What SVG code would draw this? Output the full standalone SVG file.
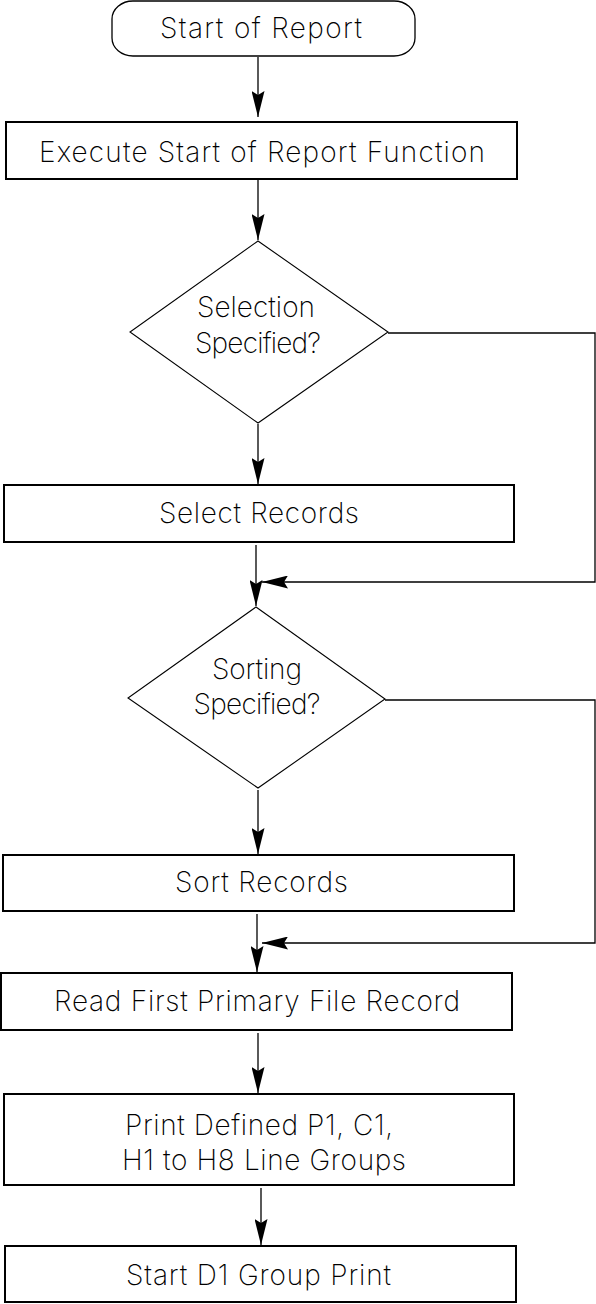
<svg xmlns="http://www.w3.org/2000/svg" width="596" height="1304" viewBox="0 0 596 1304">
<style>
.box{fill:#fff;stroke:#000;stroke-width:2}
.term{fill:#fff;stroke:#000;stroke-width:1.3}
.dia{fill:#fff;stroke:#000;stroke-width:1.1}
.con{fill:none;stroke:#000;stroke-width:1.3}
.t{font-family:Inter,"Liberation Sans",Arial,sans-serif;font-size:28px;font-weight:200;fill:#000;text-anchor:middle}
</style>
<defs>
<marker id="ah" viewBox="0 0 26 13" refX="26" refY="6.5" markerWidth="26" markerHeight="13" markerUnits="userSpaceOnUse" orient="auto">
<path d="M0,0 L26,6.5 L0,13 L4,6.5 Z" fill="#000"/>
</marker>
</defs>
<g id="connectors">
<path class="con" d="M258,57 V117" marker-end="url(#ah)"/>
<path class="con" d="M258,180 V240" marker-end="url(#ah)"/>
<path class="con" d="M258,424 V484" marker-end="url(#ah)"/>
<path class="con" d="M256,545 V606" marker-end="url(#ah)"/>
<path class="con" d="M388,333 H595 V582 H262" marker-end="url(#ah)"/>
<path class="con" d="M258,790 V854" marker-end="url(#ah)"/>
<path class="con" d="M385,700 H595 V943 H262" marker-end="url(#ah)"/>
<path class="con" d="M257,914 V972" marker-end="url(#ah)"/>
<path class="con" d="M258,1033 V1093" marker-end="url(#ah)"/>
<path class="con" d="M261,1188 V1245" marker-end="url(#ah)"/>
</g>
<g id="start">
<rect class="term" x="112" y="1" width="303" height="55" rx="21" ry="18"/>
<text class="t" x="261" y="38" textLength="202">Start of Report</text>
</g>
<g id="execute">
<rect class="box" x="6" y="122" width="511" height="57"/>
<text class="t" x="262" y="162" textLength="446">Execute Start of Report Function</text>
</g>
<g id="selection">
<polygon class="dia" points="258,241 388,332 258,423 130,332"/>
<text class="t" x="256" y="317" textLength="118">Selection</text>
<text class="t" x="258" y="353" textLength="126">Specified?</text>
</g>
<g id="select">
<rect class="box" x="4" y="485" width="510" height="57"/>
<text class="t" x="259" y="523" textLength="200">Select Records</text>
</g>
<g id="sorting">
<polygon class="dia" points="256,607 385,699 258,788 128,698"/>
<text class="t" x="257" y="679" textLength="90">Sorting</text>
<text class="t" x="257" y="714" textLength="127">Specified?</text>
</g>
<g id="sort">
<rect class="box" x="3" y="855" width="511" height="56"/>
<text class="t" x="261.5" y="892" textLength="173">Sort Records</text>
</g>
<g id="read">
<rect class="box" x="1" y="973" width="511" height="57"/>
<text class="t" x="257" y="1011" textLength="406">Read First Primary File Record</text>
</g>
<g id="print">
<rect class="box" x="4" y="1094" width="510" height="91"/>
<text class="t" x="259" y="1135" textLength="268">Print Defined P1, C1,</text>
<text class="t" x="264" y="1170" textLength="284">H1 to H8 Line Groups</text>
</g>
<g id="d1">
<rect class="box" x="5" y="1246" width="511" height="56"/>
<text class="t" x="258.5" y="1285" textLength="265">Start D1 Group Print</text>
</g>
</svg>
